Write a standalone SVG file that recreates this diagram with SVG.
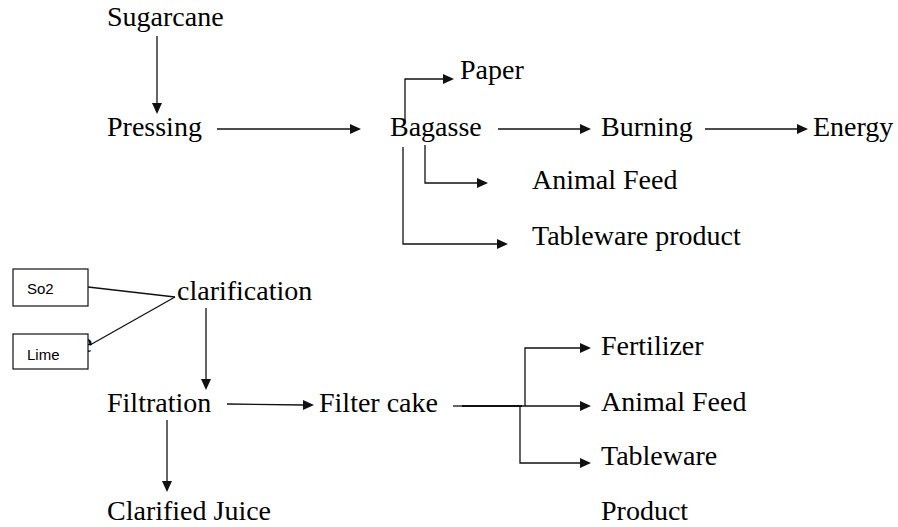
<svg xmlns="http://www.w3.org/2000/svg" width="898" height="527" viewBox="0 0 898 527">
<rect width="898" height="527" fill="#fff"/>
<g id="connectors" stroke="#111" stroke-width="1.3" fill="none">
<path d="M157,36 V104"/><polygon points="152,103 162,103 157,114" fill="#111" stroke="none"/>
<path d="M217,129 H351"/><polygon points="350,124 350,134 361,129" fill="#111" stroke="none"/>
<path d="M405,122 V79 H444"/><polygon points="443,74 443,84 454,79" fill="#111" stroke="none"/>
<path d="M498,129 H581"/><polygon points="580,124 580,134 591,129" fill="#111" stroke="none"/>
<path d="M705,129 H798"/><polygon points="797,124 797,134 808,129" fill="#111" stroke="none"/>
<path d="M425,145 V183 H478"/><polygon points="477,178 477,188 488,183" fill="#111" stroke="none"/>
<path d="M403,147 V244 H498"/><polygon points="497,239 497,249 508,244" fill="#111" stroke="none"/>
<path d="M88,287 L175,297"/>
<path d="M90,345 L175,297"/>
<path d="M206,308 V380"/><polygon points="201,379 211,379 206,390" fill="#111" stroke="none"/>
<path d="M227,404 L304,405"/><polygon points="303,400 303,410 314,405" fill="#111" stroke="none"/>
<path d="M167,420 V482"/><polygon points="162,481 172,481 167,492" fill="#111" stroke="none"/>
<path d="M453,406 H462"/>
<path d="M462,406 H522" stroke-width="2.2"/>
<path d="M525,406 V348 H581"/><polygon points="580,343 580,353 591,348" fill="#111" stroke="none"/>
<path d="M522,406 H581"/><polygon points="580,401 580,411 591,406" fill="#111" stroke="none"/>
<path d="M520,406 V463 H581"/><polygon points="580,458 580,468 591,463" fill="#111" stroke="none"/>
</g>
<g id="sugarcane"><text x="107" y="26" font-family="Liberation Serif" font-size="28">Sugarcane</text></g>
<g id="pressing"><text x="107" y="136" font-family="Liberation Serif" font-size="28">Pressing</text></g>
<g id="bagasse"><text x="390" y="136" font-family="Liberation Serif" font-size="28">Bagasse</text></g>
<g id="paper"><text x="460" y="79" font-family="Liberation Serif" font-size="28">Paper</text></g>
<g id="burning"><text x="601" y="136" font-family="Liberation Serif" font-size="28">Burning</text></g>
<g id="energy"><text x="813" y="136" font-family="Liberation Serif" font-size="28">Energy</text></g>
<g id="animal-feed-1"><text x="532" y="189" font-family="Liberation Serif" font-size="28">Animal Feed</text></g>
<g id="tableware-1"><text x="532" y="245" font-family="Liberation Serif" font-size="28">Tableware product</text></g>
<g id="so2"><rect x="13" y="269" width="75" height="37" fill="#fff" stroke="#111" stroke-width="1.2"/><text x="27" y="294" font-family="Liberation Sans" font-size="15">So2</text></g>
<g id="lime"><text x="80" y="352" font-family="Liberation Serif" font-size="28">e</text><rect x="13" y="334" width="75" height="35" fill="#fff" stroke="#111" stroke-width="1.2"/><text x="27" y="360" font-family="Liberation Sans" font-size="15">Lime</text></g>
<g id="clarification"><text x="177" y="300" font-family="Liberation Serif" font-size="28">clarification</text></g>
<g id="filtration"><text x="107" y="412" font-family="Liberation Serif" font-size="28">Filtration</text></g>
<g id="filter-cake"><text x="319" y="412" font-family="Liberation Serif" font-size="28">Filter cake</text></g>
<g id="clarified-juice"><text x="107" y="520" font-family="Liberation Serif" font-size="28">Clarified Juice</text></g>
<g id="fertilizer"><text x="601" y="355" font-family="Liberation Serif" font-size="28">Fertilizer</text></g>
<g id="animal-feed-2"><text x="601" y="411" font-family="Liberation Serif" font-size="28">Animal Feed</text></g>
<g id="tableware-2"><text x="601" y="465" font-family="Liberation Serif" font-size="28">Tableware</text><text x="601" y="520" font-family="Liberation Serif" font-size="28">Product</text></g>
</svg>
